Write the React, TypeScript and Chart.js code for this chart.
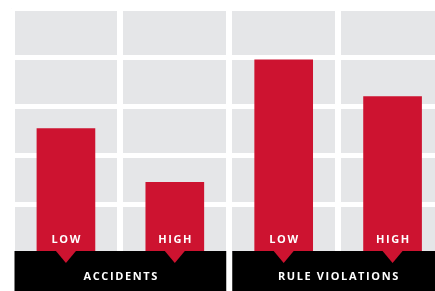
import React, { useEffect, useRef } from "react";
import { Chart, registerables } from "chart.js";

Chart.register(...registerables);

const groups = ["ACCIDENTS", "RULE VIOLATIONS"];
const levels = ["LOW", "HIGH", "LOW", "HIGH"];
const groupIndex = [0, 0, 1, 1];
const values = [51, 29, 79, 64];
const yMin = 0;
const yMax = 100;
const yStep = 20;

const RED = "#CD1330";
const GREY = "#E5E6E8";
const FONT = "'Open Sans', 'Noto Sans', sans-serif";

const decorPlugin = {
  id: "decor",
  beforeDraw(chart: any) {
    const { ctx, chartArea } = chart;
    ctx.save();
    ctx.fillStyle = GREY;
    ctx.fillRect(chartArea.left, chartArea.top, chartArea.right - chartArea.left, chartArea.bottom - chartArea.top);
    ctx.restore();
  },
  afterDatasetsDraw(chart: any) {
    const { ctx, chartArea } = chart;
    const xs = chart.scales.x;
    const meta = chart.getDatasetMeta(0);
    const pitch = xs.getPixelForTick(1) - xs.getPixelForTick(0);
    const gap = 3;
    const bandTop = chartArea.bottom - 2.5;
    const bandBottom = chart.height;
    ctx.save();
    // black bands
    groups.forEach((g, gi) => {
      const idx = groupIndex.map((v, i) => (v === gi ? i : -1)).filter((i) => i >= 0);
      const first = meta.data[idx[0]].x;
      const last = meta.data[idx[idx.length - 1]].x;
      const left = first - pitch / 2 + gap;
      const right = last + pitch / 2 - gap;
      ctx.fillStyle = "#000";
      ctx.fillRect(left, bandTop, right - left, bandBottom - bandTop);
    });
    // triangles
    meta.data.forEach((bar: any) => {
      ctx.fillStyle = RED;
      ctx.beginPath();
      ctx.moveTo(bar.x - 10, bandTop);
      ctx.lineTo(bar.x + 10, bandTop);
      ctx.lineTo(bar.x, bandTop + 12);
      ctx.closePath();
      ctx.fill();
    });
    // level labels
    const sp = 1.6;
    ctx.fillStyle = "#fff";
    ctx.textAlign = "center";
    ctx.textBaseline = "middle";
    (ctx as any).letterSpacing = sp + "px";
    ctx.font = "bold 11px " + FONT;
    meta.data.forEach((bar: any, i: number) => {
      ctx.fillText(levels[i], bar.x + sp / 2, bandTop - 11.5);
    });
    // group labels
    groups.forEach((g, gi) => {
      const idx = groupIndex.map((v, i) => (v === gi ? i : -1)).filter((i) => i >= 0);
      const first = meta.data[idx[0]].x;
      const last = meta.data[idx[idx.length - 1]].x;
      ctx.fillText(g, (first + last) / 2 + sp / 2, bandTop + 26);
    });
    ctx.restore();
  },
};

export default function App() {
  const ref = useRef<HTMLCanvasElement | null>(null);
  useEffect(() => {
    if (!ref.current) return;
    const chart = new Chart(ref.current, {
      type: "bar",
      data: {
        labels: levels,
        datasets: [
          {
            data: values,
            backgroundColor: RED,
            borderWidth: 0,
            barThickness: 58,
          },
        ],
      },
      options: {
        animation: false,
        responsive: false,
        devicePixelRatio: 1,
        layout: { padding: { left: 11.5, right: 1, top: 8.5, bottom: 37.5 } },
        plugins: { legend: { display: false }, tooltip: { enabled: false } },
        scales: {
          x: {
            offset: true,
            ticks: { display: false },
            border: { display: false },
            grid: { color: "#fff", lineWidth: 6, drawTicks: false, offset: true },
          },
          y: {
            min: yMin,
            max: yMax,
            ticks: { display: false, stepSize: yStep },
            border: { display: false },
            grid: { color: "#fff", lineWidth: 5, drawTicks: false },
          },
        },
      },
      plugins: [decorPlugin],
    } as any);
    return () => chart.destroy();
  }, []);
  return (
    <div style={{ position: "fixed", left: 0, top: 0, width: 435, height: 291, overflow: "hidden", background: "#fff" }}>
      <canvas ref={ref} width={448} height={291} style={{ display: "block" }} />
    </div>
  );
}
